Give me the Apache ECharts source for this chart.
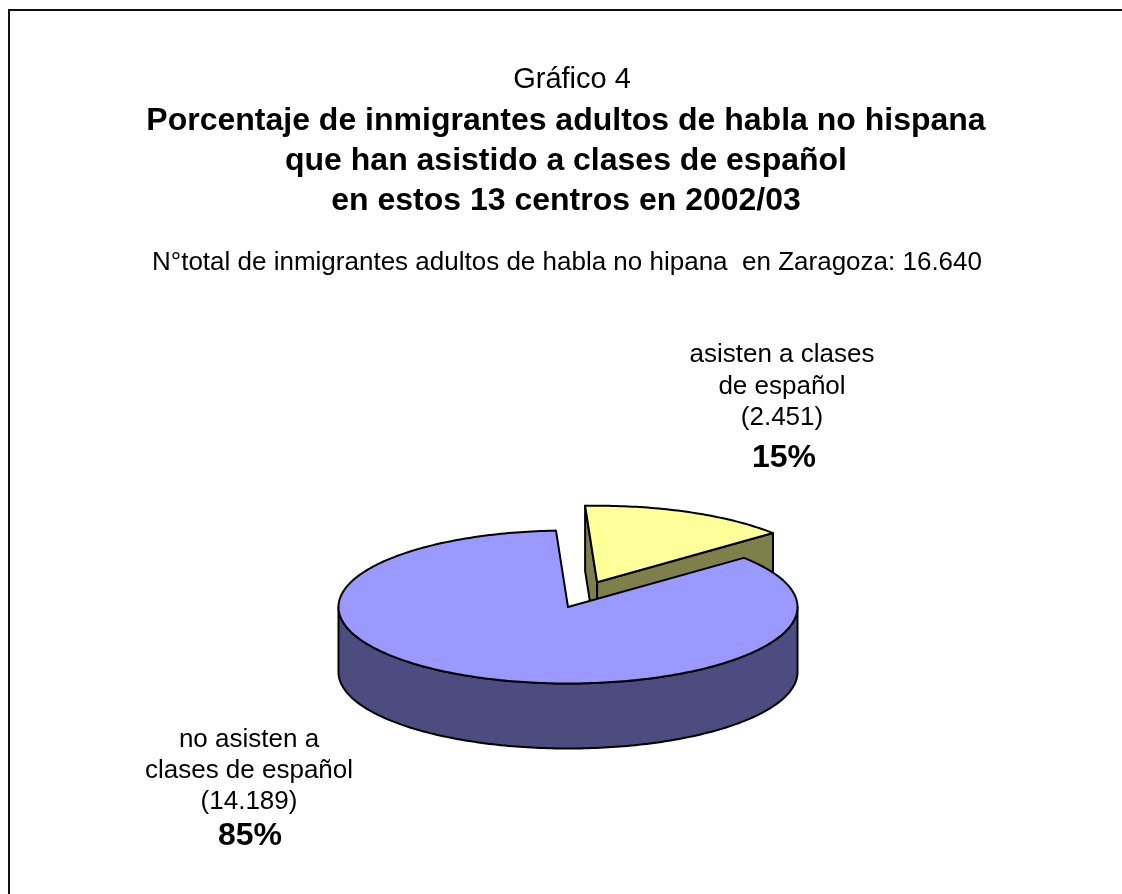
<!DOCTYPE html>
<html>
<head>
<meta charset="utf-8">
<script src="https://cdn.jsdelivr.net/npm/echarts@6/dist/echarts.min.js"></script>
<style>
html,body{margin:0;padding:0;background:#fff;}
#c{width:1122px;height:894px;}
</style>
</head>
<body>
<div id="c"></div>
<script>
// ---- data ----
const chartNumber = 'Gráfico 4';
const titleLines = [
  'Porcentaje de inmigrantes adultos de habla no hispana',
  'que han asistido a clases de español',
  'en estos 13 centros en 2002/03'
];
const subtitle = 'N°total de inmigrantes adultos de habla no hipana  en Zaragoza: 16.640';
const categories = ['asisten a clases\nde español', 'no asisten a\nclases de español'];
const counts = [2451, 14189];
const explodedSlice = [true, false];

// ---- style / layout ----
const topColors = ['#FFFF99', '#9999FF'];
const sideColors = ['#7F7F4C', '#4C4C80'];
const FONT = '"Liberation Sans", Arial, Helvetica, sans-serif';
const PIE = { cx: 568, cy: 607, rx: 229.5, ry: 76.5, depth: 65, startAngle: -3, explode: 73, explodeTilt: 0.37 };
const labelLayout = [
  { x: 782, y: 355, step: 31.5, px: 784, py: 458 },
  { x: 249, y: 740, step: 31, px: 250, py: 836 }
];

function fmtThousands(n) {
  return String(n).replace(/\B(?=(\d{3})+(?!\d))/g, '.');
}

const total = counts.reduce((a, b) => a + b, 0);

function renderItem(params, api) {
  const i = params.dataIndex;
  let a0 = PIE.startAngle;
  for (let k = 0; k < i; k++) a0 += counts[k] / total * 360;
  const a1 = a0 + api.value(0) / total * 360;
  const mid = (a0 + a1) / 2 * Math.PI / 180;
  let cx = PIE.cx, cy = PIE.cy;
  if (explodedSlice[i]) {
    cx += PIE.explode * Math.sin(mid);
    cy -= PIE.explode * Math.cos(mid) * PIE.explodeTilt;
  }
  const pt = (deg, dz) => {
    const r = deg * Math.PI / 180;
    return [cx + PIE.rx * Math.sin(r), cy - PIE.ry * Math.cos(r) + (dz || 0)];
  };
  const arc = (from, to, dz) => {
    const pts = [];
    const n = Math.max(2, Math.ceil(Math.abs(to - from)));
    for (let s = 0; s <= n; s++) pts.push(pt(from + (to - from) * s / n, dz));
    return pts;
  };
  const st = (fill) => ({ fill: fill, stroke: '#000', lineWidth: 2, lineJoin: 'round' });
  const children = [];
  // radial faces
  [[a0, -90], [a1, 90]].forEach(([ang, rot]) => {
    const n = (ang + rot) * Math.PI / 180;
    if (Math.cos(n) < 0) {
      children.push({
        type: 'polygon', z2: i * 10 + 1,
        shape: { points: [[cx, cy], pt(ang), pt(ang, PIE.depth), [cx, cy + PIE.depth]] },
        style: st(sideColors[i])
      });
    }
  });
  // outer side (front half)
  for (let m = -1; m <= 1; m++) {
    const s = Math.max(a0, 90 + 360 * m), e = Math.min(a1, 270 + 360 * m);
    if (e > s) {
      const pts = arc(s, e, 0).concat(arc(e, s, PIE.depth));
      children.push({ type: 'polygon', z2: i * 10 + 2, shape: { points: pts }, style: st(sideColors[i]) });
    }
  }
  // top face
  children.push({
    type: 'polygon', z2: i * 10 + 3,
    shape: { points: [[cx, cy]].concat(arc(a0, a1, 0)) },
    style: st(topColors[i])
  });
  return { type: 'group', children: children };
}

function txt(text, x, y, size, bold) {
  return {
    type: 'text', x: x, y: y, silent: true,
    style: {
      text: text, fill: '#000',
      font: (bold ? 'bold ' : '') + size + 'px ' + FONT,
      align: 'center', verticalAlign: 'middle',
      textAlign: 'center', textVerticalAlign: 'middle'
    }
  };
}

const graphics = [];
graphics.push({ type: 'rect', silent: true, shape: { x: 9, y: 10, width: 1400, height: 1100 }, style: { fill: 'none', stroke: '#111', lineWidth: 2 } });
graphics.push(txt(chartNumber, 572, 80, 29, false));
titleLines.forEach((t, k) => graphics.push(txt(t, 566, 121 + k * 40, 32, true)));
graphics.push(txt(subtitle, 567, 263, 26, false));
categories.forEach((c, i) => {
  const L = labelLayout[i];
  const lines = c.split('\n').concat(['(' + fmtThousands(counts[i]) + ')']);
  lines.forEach((ln, k) => graphics.push(txt(ln, L.x, L.y + k * L.step, 26, false)));
  graphics.push(txt(Math.round(counts[i] / total * 100) + '%', L.px, L.py, 32, true));
});

const chart = echarts.init(document.getElementById('c'), null, { renderer: 'canvas' });
chart.setOption({
  animation: false,
  backgroundColor: '#fff',
  graphic: { elements: graphics },
  series: [{
    type: 'custom',
    coordinateSystem: 'none',
    renderItem: renderItem,
    data: counts.map((v, i) => ({ value: [v], name: categories[i].replace('\n', ' ') }))
  }]
});
</script>
</body>
</html>
